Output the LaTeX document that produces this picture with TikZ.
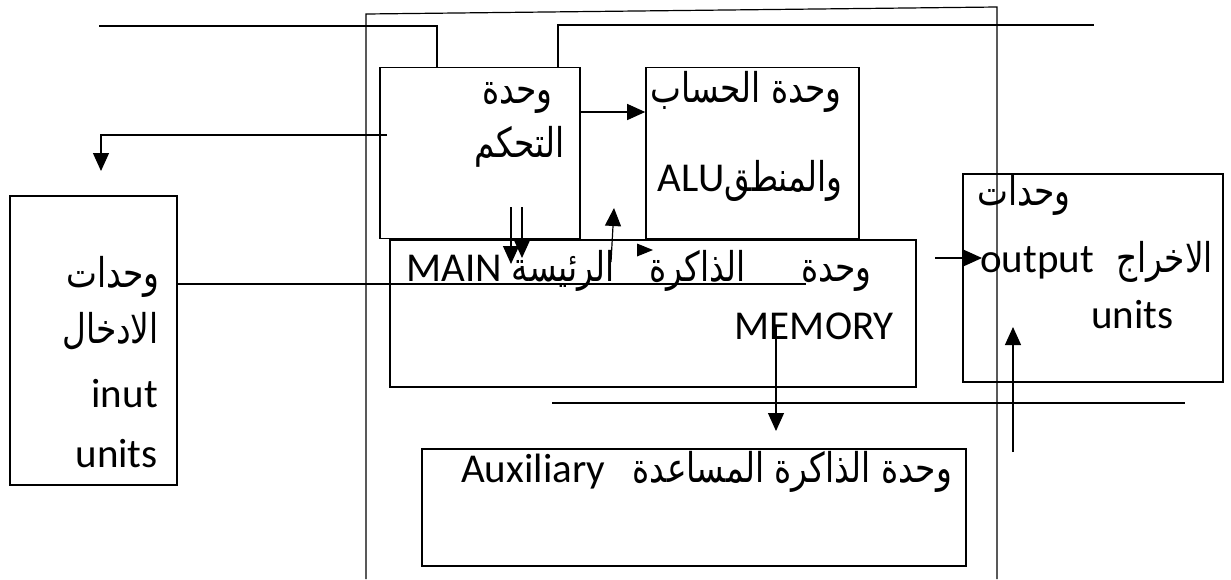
\documentclass[tikz,border=0pt]{standalone}
\usepackage{fontspec}
\setmainfont{Carlito}
\newfontfamily\arabicfont[Script=Arabic,FakeStretch=0.8]{DejaVu Sans}
\TeXXeTstate=1
\usetikzlibrary{arrows.meta,calc}
\newcommand\artxt[1]{\beginR #1\endR}
\begin{document}
\begin{tikzpicture}[x=1pt,y=-1pt,
  box/.style={draw, line width=1.6pt, inner sep=0pt},
  ln/.style={line width=1.2pt},
  arr/.style={ln, -{Triangle[length=18pt,width=16pt]}},
  lat/.style={font=\fontsize{41}{46}\selectfont, inner sep=0pt},
  ar/.style={font=\arabicfont\fontsize{41}{44}\selectfont, inner sep=0pt}]
\useasboundingbox[fill=white] (0,0) rectangle (1231,579);

% boxes
\node[box, minimum width=200pt, minimum height=171pt] (ctrl) at (480,153) {};
\node[box, minimum width=213pt, minimum height=171pt] (alu) at (752.5,153) {};
\node[box, minimum width=526pt, minimum height=147pt] (mem) at (653,313.5) {};
\node[box, minimum width=167pt, minimum height=289pt] (inp) at (93.5,340.5) {};
\node[box, minimum width=260pt, minimum height=208pt] (out) at (1093,278) {};
\node[box, minimum width=544pt, minimum height=117pt] (aux) at (694,507.5) {};

% outer frame
\coordinate (fbl) at (366,579);
\coordinate (ftl) at (366,14);
\coordinate (ftr) at (997,7);
\coordinate (fbr) at (997,579);
\draw[ln] (fbl) -- (ftl) -- (ftr) -- (fbr);

% top lines
\coordinate (la) at (99,26);
\coordinate (lb) at (1094,25);
\draw[ln] (la) -- (437,26) -- (437,26 |- ctrl.north);
\draw[ln] (558,25 |- ctrl.north) -- (558,25) -- (lb);

% control -> left arrow
\coordinate (ld) at (101,171);
\draw[arr] (387,135) -- (ld |- 0,135) -- (ld);

% control -> ALU
\draw[arr] (ctrl.east |- 0,112) -- (alu.west |- 0,112);

% control <-> memory
\draw[arr] (511,207) -- (511,264);
\draw[arr] (522,207) -- (522,258);
\draw[arr] (611,262) -- (614,208);
\fill (637,243.5) -- (653,250) -- (637,256.5) -- cycle;

% long line from input through memory
\draw[ln] (inp.east |- 0,284) -- (806,284);

% memory -> output
\draw[arr] (935,258) -- (982,258);

% memory -> auxiliary
\draw[arr] (776,326) -- (776,431);

% lower line and up arrow
\draw[ln] (552,403) -- (1185,403);
\draw[arr] (1013,452) -- (1013,327);

% texts: control
\node[ar, anchor=base east] (t1) at (553,103) {\artxt{وحدة}};
\node[ar, anchor=base east] (t2) at (565,157) {\artxt{التحكم}};
% ALU
\node[ar, anchor=base east] (t3) at (842,102) {\artxt{وحدة الحساب}};
\node[ar, anchor=base east] (t4) at (843,191) {\artxt{والمنطق}};
\node[lat, anchor=base east] (t5) at (t4.base west) {ALU};
% memory
\node[ar, anchor=base east] (m1) at (872,281) {\artxt{وحدة}};
\node[ar, anchor=base east] (m2) at (746,281) {\artxt{الذاكرة}};
\node[ar, anchor=base east] (m3) at (615,281) {\artxt{الرئيسة}};
\node[lat, anchor=base east] (m4) at (502,281) {MAIN};
\node[lat, anchor=base east] (m5) at (894,339) {MEMORY};
% input
\node[ar, anchor=base east] (i1) at (160,287) {\artxt{وحدات}};
\node[ar, anchor=base east] (i2) at (159,343) {\artxt{الادخال}};
\node[lat, anchor=base east] (i3) at (158,407) {inut};
\node[lat, anchor=base east] (i4) at (158,467) {units};
% output
\node[ar, anchor=base west] (o1) at (977,205) {\artxt{وحدات}};
\node[lat, anchor=base west] (o2) at (980,272) {output};
\node[ar, anchor=base east] (o3) at (1213,272) {\artxt{الاخراج}};
\node[lat, anchor=base west] (o4) at (1091,328) {units};
% auxiliary
\node[lat, anchor=base west] (a1) at (461,482) {Auxiliary};
\node[ar, anchor=base east] (a2) at (952,482) {\artxt{وحدة الذاكرة المساعدة}};
\end{tikzpicture}
\end{document}
